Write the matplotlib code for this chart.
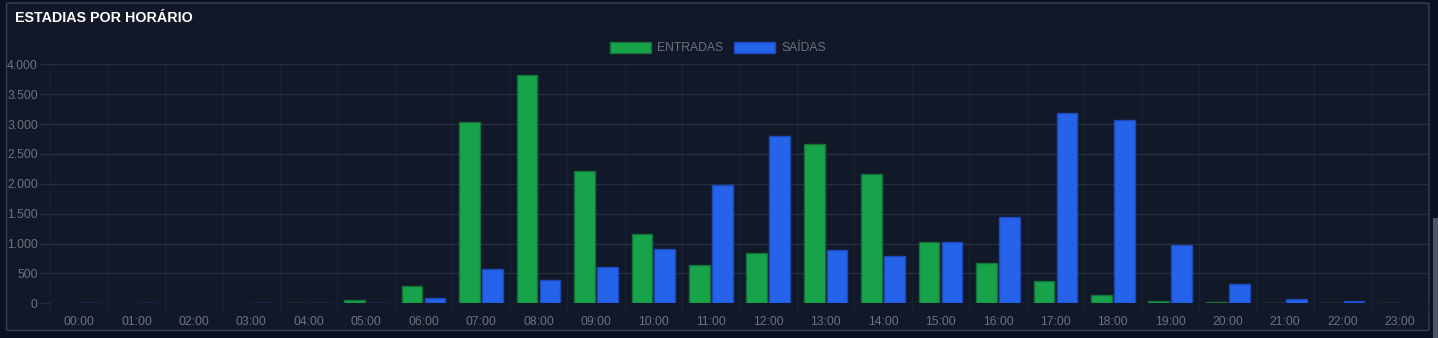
import matplotlib.pyplot as plt
import matplotlib.patches as patches
from matplotlib.ticker import FuncFormatter, FixedLocator
import numpy as np

# Data
hours = ["%02d:00" % h for h in range(24)]
entradas = [0, 0, 0, 0, 5, 62, 283, 3033, 3822, 2222, 1167, 638,
            850, 2667, 2172, 1028, 667, 372, 138, 33, 15, 8, 2, 8]
saidas = [5, 3, 0, 5, 5, 10, 88, 567, 388, 600, 905, 1972,
          2800, 900, 788, 1033, 1438, 3188, 3072, 983, 317, 67, 45, 0]
y_ticks = [0, 500, 1000, 1500, 2000, 2500, 3000, 3500, 4000]

W, H = 1438, 338
page_bg = "#0b1120"
card_bg = "#111827"
card_edge = "#374151"
grid_col = "#243041"
vgrid_col = "#182131"
text_col = "#6b7280"
green = "#16a34a"
blue = "#2563eb"

plt.rcParams['font.family'] = ['Liberation Sans', 'DejaVu Sans']

fig = plt.figure(figsize=(W / 100, H / 100), dpi=100)
fig.patch.set_facecolor(page_bg)

# Card behind the chart
card = patches.FancyBboxPatch((6.5 / W, (H - 330.5) / H), 1422.5 / W, 327.5 / H,
                              boxstyle="round,pad=0,rounding_size=0.003",
                              transform=fig.transFigure, facecolor=card_bg,
                              edgecolor=card_edge, linewidth=1, zorder=-2)
fig.patches.append(card)

# Scrollbar strip on the right
fig.patches.append(patches.Rectangle((1433 / W, 0), 5 / W, (H - 218) / H,
                                     transform=fig.transFigure, facecolor="#4b5563",
                                     edgecolor="none", zorder=-2))

fig.text(15 / W, 1 - 18 / H, "ESTADIAS POR HORÁRIO", color="white",
         fontsize=10.3, fontweight="bold", va="center", ha="left")

left, right = 50.3, 1428.7
bottom, top = 303.3, 64.3
ax = fig.add_axes([left / W, (H - bottom) / H, (right - left) / W, (bottom - top) / H])
ax.set_facecolor("none")

x = np.arange(len(hours))
bw = 0.36
# no outline on empty bars
lw_ent = [1 if v > 0 else 0 for v in entradas]
lw_sai = [1 if v > 0 else 0 for v in saidas]
ax.bar(x - 0.2, entradas, width=bw, color=green, edgecolor="#15703a",
       linewidth=lw_ent, label="ENTRADAS", zorder=3)
ax.bar(x + 0.2, saidas, width=bw, color=blue, edgecolor="#1e48b8",
       linewidth=lw_sai, label="SAÍDAS", zorder=3)

ax.set_xlim(-0.5, len(hours) - 0.5)
ax.set_ylim(0, 4000)
ax.set_yticks(y_ticks)
ax.yaxis.set_major_formatter(FuncFormatter(lambda v, p: "{:,.0f}".format(v).replace(",", ".")))
ax.set_xticks(x)
ax.set_xticklabels(hours)
ax.xaxis.set_minor_locator(FixedLocator(np.arange(-0.5, len(hours), 1.0)))

ax.grid(axis="y", color=grid_col, linewidth=1, zorder=0)
ax.grid(axis="x", which="minor", color=vgrid_col, linewidth=1, zorder=0)
for s in ["top", "right", "bottom"]:
    ax.spines[s].set_visible(False)
ax.spines["left"].set_color(vgrid_col)

ax.tick_params(axis="y", colors=grid_col, labelcolor=text_col, labelsize=8.7,
               length=7, width=1, pad=2)
ax.tick_params(axis="x", which="major", length=0, labelcolor=text_col,
               labelsize=8.7, pad=9)
ax.tick_params(axis="x", which="minor", length=8, color=vgrid_col, width=1)

leg = ax.legend(loc="center", bbox_to_anchor=(718 / W, 1 - 48 / H),
                bbox_transform=fig.transFigure, ncol=2, frameon=False,
                fontsize=8.7, handlelength=3.4, handleheight=1.1,
                handletextpad=0.5, columnspacing=0.9)
for t in leg.get_texts():
    t.set_color(text_col)
for h in leg.legend_handles:
    h.set_linewidth(1)

fig.savefig("out.png", dpi=100, facecolor=fig.get_facecolor())
